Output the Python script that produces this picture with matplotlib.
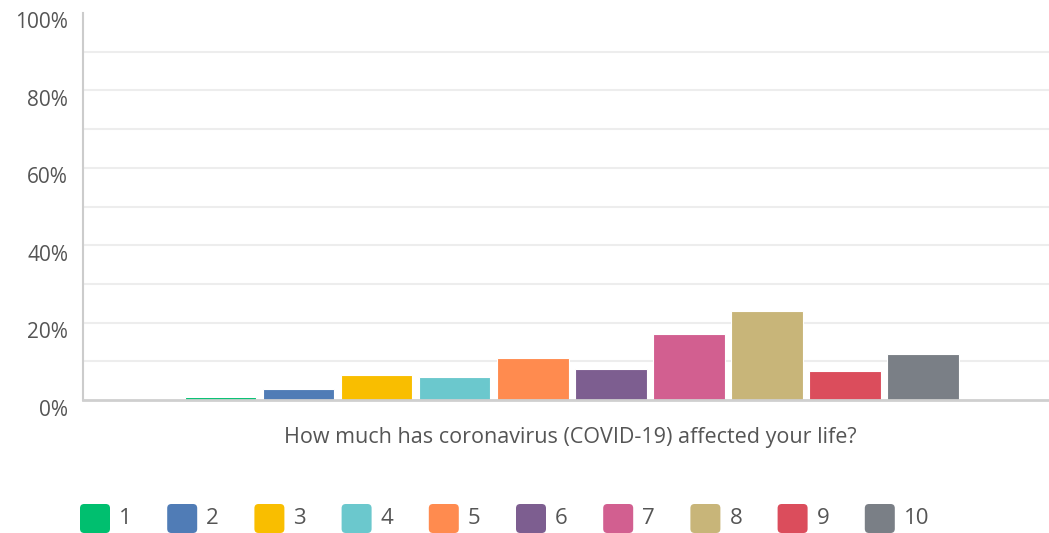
import matplotlib
matplotlib.use("Agg")
import matplotlib.pyplot as plt
import matplotlib.transforms as mtransforms
from matplotlib.patches import FancyBboxPatch

# answer options and share of respondents (%)
answers = ["1", "2", "3", "4", "5", "6", "7", "8", "9", "10"]
shares = [0.9, 2.9, 6.4, 5.9, 10.9, 7.9, 17.0, 22.9, 7.4, 12.0]
colors = ["#00BF6F", "#507CB6", "#F9BE00", "#6BC8CD", "#FF8B4F",
          "#7D5E90", "#D25F90", "#C8B579", "#DB4D5C", "#7A7F86"]
yticks = [0, 20, 40, 60, 80, 100]
question = "How much has coronavirus (COVID-19) affected your life?"

W, H = 1049, 533
plt.rcParams['font.family'] = ['Open Sans', 'DejaVu Sans']
fig = plt.figure(figsize=(W / 100, H / 100), dpi=100)
ax = fig.add_axes([83 / W, 1 - 400 / H, (W - 83) / W, (400 - 13) / H])

xs = list(range(1, len(answers) + 1))
ax.bar(xs, shares, width=0.917, color=colors, edgecolor="white",
       linewidth=0.8, zorder=3)

ax.set_xlim(-0.763, 11.615)
ax.set_ylim(0, 100)
for g in range(10, 100, 10):
    ax.axhline(g, color="#EDEDED", lw=1.5, zorder=1)

# y labels sit a little below their gridline
ax.set_yticks([])
ax.set_xticks([])
offset = mtransforms.ScaledTranslation(-15 / 100, -10 / 100, fig.dpi_scale_trans)
for t in yticks:
    ax.text(0, t, f"{t}%", transform=ax.get_yaxis_transform() + offset,
            ha="right", va="center", fontsize=15, color="#555555")

for s in ["top", "right"]:
    ax.spines[s].set_visible(False)
ax.spines["left"].set_color("#CCCCCC")
ax.spines["left"].set_linewidth(1.5)
ax.spines["bottom"].set_color("#CFCFCF")
ax.spines["bottom"].set_linewidth(2)
ax.spines["bottom"].set_zorder(4)

fig.text(570 / W, 1 - 437 / H, question, ha="center", va="center",
         fontsize=15.5, color="#555555")

# legend drawn by hand: rounded swatches
for i, (name, c) in enumerate(zip(answers, colors)):
    x0 = 80 + i * 87.2
    box = FancyBboxPatch((x0 / W, 1 - 533 / H), 30 / W, 29 / H,
                         boxstyle="round,pad=0,rounding_size=0.004",
                         transform=fig.transFigure, fc=c, ec="none",
                         mutation_aspect=W / H)
    fig.patches.append(box)
    fig.text((x0 + 39) / W, 1 - 519 / H, name, ha="left", va="center",
             fontsize=16, color="#555555")

fig.savefig("out.png", dpi=100)
